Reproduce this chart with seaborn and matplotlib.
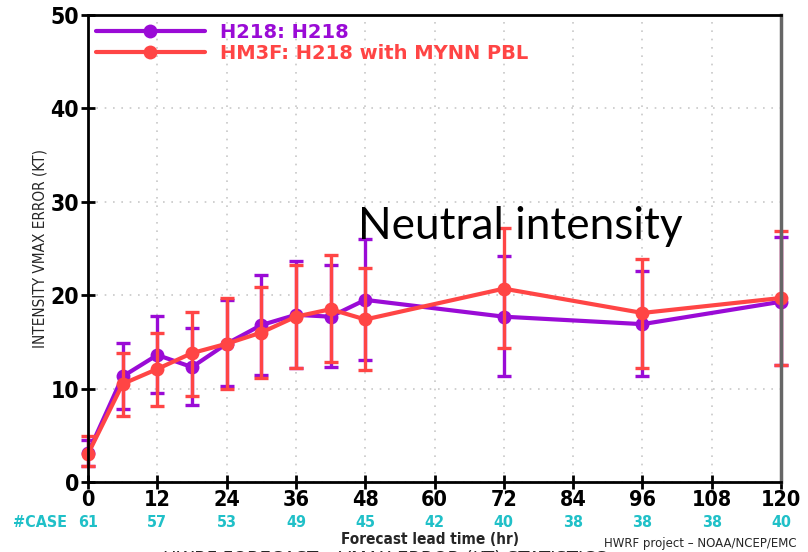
import matplotlib
matplotlib.use("Agg")
import matplotlib.pyplot as plt
import seaborn as sns
import pandas as pd
import numpy as np

# ---- data ----
lead = [0, 6, 12, 18, 24, 30, 36, 42, 48, 72, 96, 120]
h218 = [3.1, 11.3, 13.6, 12.3, 14.8, 16.8, 17.9, 17.7, 19.5, 17.7, 16.9, 19.3]
h218_lo = [1.7, 7.8, 9.5, 8.2, 10.3, 11.5, 12.2, 12.3, 13.1, 11.3, 11.3, 12.5]
h218_hi = [4.5, 14.9, 17.8, 16.5, 19.5, 22.2, 23.7, 23.2, 26.0, 24.2, 22.6, 26.2]
hm3f = [3.0, 10.5, 12.1, 13.8, 14.8, 16.0, 17.7, 18.5, 17.4, 20.7, 18.1, 19.7]
hm3f_lo = [1.7, 7.1, 8.1, 9.2, 10.0, 11.1, 12.2, 12.9, 12.0, 14.3, 12.2, 12.5]
hm3f_hi = [4.9, 13.8, 16.0, 18.2, 19.7, 20.9, 23.2, 24.3, 22.9, 27.2, 23.9, 26.9]
xticks = [0, 12, 24, 36, 48, 60, 72, 84, 96, 108, 120]
cases = [61, 57, 53, 49, 45, 42, 40, 38, 38, 38, 40]
yticks = [0, 10, 20, 30, 40, 50]
labels = ["H218: H218", "HM3F: H218 with MYNN PBL"]
colors = ["#9A0BD6", "#FF4545"]

sns.set_theme(style="white")
fig = plt.figure(figsize=(8.08, 5.52), dpi=100)
ax = fig.add_axes([88/808, 70/552, 693/808, 467/552])

series = [(h218, h218_lo, h218_hi), (hm3f, hm3f_lo, hm3f_hi)]
for (vals, lo, hi), lab, col in zip(series, labels, colors):
    df = pd.DataFrame({"lead": lead, "err": vals})
    sns.lineplot(data=df, x="lead", y="err", ax=ax, color=col, lw=3.0,
                 marker="o", markersize=10, markeredgewidth=0, label=lab, clip_on=False)
    v = np.array(vals)
    yerr = np.vstack([v - np.array(lo), np.array(hi) - v])
    eb = ax.errorbar(lead, vals, yerr=yerr, fmt="none", ecolor=col, elinewidth=2.4,
                     capsize=5, capthick=2.4)
    for art in eb.lines[1]:
        art.set_clip_on(False)
    for art in eb.lines[2]:
        art.set_clip_on(False)

ax.set_xlim(0, 120)
ax.set_ylim(0, 50)
ax.set_xticks(xticks)
ax.set_yticks(yticks)
ax.grid(True, color="#c8c8c8", linestyle=(0, (1, 4)), linewidth=1.2)
for s in ["left", "bottom", "top"]:
    ax.spines[s].set_color("black")
    ax.spines[s].set_linewidth(2)
ax.spines["right"].set_color("#666666")
ax.spines["right"].set_linewidth(2.5)
ax.tick_params(axis="both", direction="inout", length=10, width=2, color="black",
               labelcolor="black", labelsize=15.5, pad=1, left=True, bottom=True)
ax.tick_params(axis="y", labelsize=16.5, pad=1.5)
for t in ax.get_xticklabels() + ax.get_yticklabels():
    t.set_fontfamily("DejaVu Sans")
    t.set_fontstretch("condensed")
    t.set_fontweight("bold")
ax.set_xlabel("")
ax.set_ylabel("")

leg = ax.legend(loc="upper left", frameon=False, handlelength=5.6, handletextpad=0.8,
                labelspacing=0.12, borderaxespad=0.1, borderpad=0.3,
                prop={"family": "DejaVu Sans", "weight": "bold", "size": 14})
for txt, col in zip(leg.get_texts(), colors):
    txt.set_color(col)

# case counts
tr = ax.get_xaxis_transform()
for x, c in zip(xticks, cases):
    ax.text(x, -0.087, str(c), transform=tr, ha="center", va="center",
            color="#20C0C8", fontsize=11.5, fontweight="bold",
            fontfamily="DejaVu Sans", fontstretch="condensed")
fig.text(67/808, 1 - 522.5/552, "#CASE", ha="right", va="center", color="#20C0C8",
         fontsize=11.5, fontweight="bold", fontfamily="DejaVu Sans", fontstretch="condensed")

fig.text(430/808, 1 - 540/552, "Forecast lead time (hr)", ha="center", va="center",
         fontsize=11, fontweight="bold", fontfamily="DejaVu Sans", fontstretch="condensed")
fig.text(604/808, 1 - 544/552, "HWRF project \u2013 NOAA/NCEP/EMC", ha="left", va="center",
         fontsize=8.5, fontfamily="DejaVu Sans")
fig.text(40/808, 1 - 248/552, "INTENSITY VMAX ERROR (KT)", ha="center", va="center",
         rotation=90, fontsize=11, fontfamily="DejaVu Sans", fontstretch="condensed")
fig.text(385/808, 1 - 550/552, "HWRF FORECAST \u2013 VMAX ERROR (KT) STATISTICS", ha="center",
         va="top", fontsize=13, fontfamily="DejaVu Sans")
fig.text(358/808, 1 - 239/552, "Neutral intensity", ha="left", va="baseline",
         fontsize=31.8, fontfamily="Lato", color="black")

fig.savefig("out.png", dpi=100)
